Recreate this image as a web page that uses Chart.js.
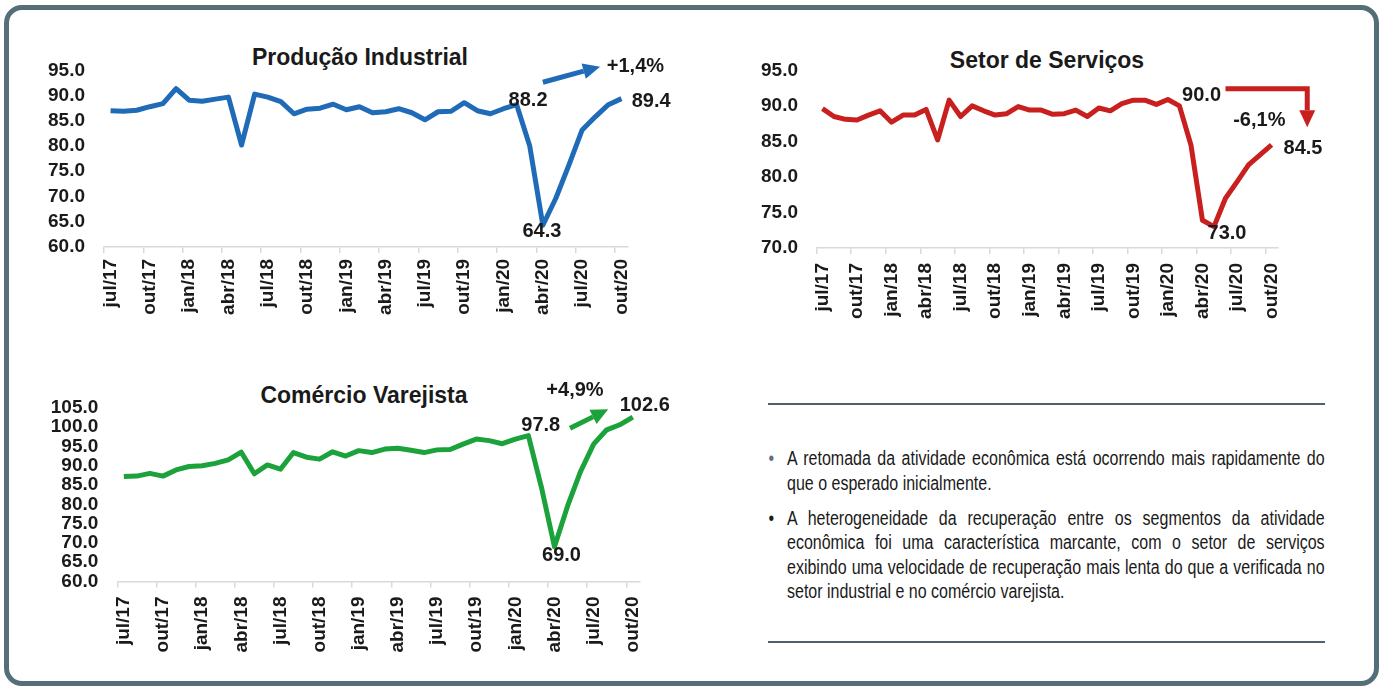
<!DOCTYPE html>
<html lang="pt-BR">
<head>
<meta charset="utf-8">
<script src="https://cdn.jsdelivr.net/npm/chart.js@4.4.1/dist/chart.umd.min.js"></script>
<style>
  html, body { margin: 0; padding: 0; background: #fff; }
  body { width: 1383px; height: 688px; position: relative; overflow: hidden;
         font-family: "Liberation Sans", Arial, sans-serif; color: #1a1a1a; }
  .frame { position: absolute; left: 4px; top: 5px; width: 1365px; height: 671px;
           border: 5px solid #546e7a; border-radius: 18px; }
  .box { position: absolute; }
  .titulo { position: absolute; font-weight: bold; font-size: 23px; white-space: nowrap;
            transform: translate(-50%, -50%); }
  .regua { position: absolute; left: 768px; width: 557px; height: 2px; background: #4f5f6e; }
  /* fonte estreita: Liberation Sans comprimida a 80% (como Arial Narrow) */
  .texto { position: absolute; left: 787px; top: 446px; width: 672px; margin: 0; padding: 0;
           transform: scaleX(0.8); transform-origin: 0 0;
           list-style: none; font-family: "Liberation Sans", Arial, sans-serif;
           font-size: 20px; line-height: 24.5px; text-align: justify; color: #1a1a1a; }
  .texto li { position: relative; margin-bottom: 10.5px; }
  .texto li::before { content: "\2022"; position: absolute; left: -23px; top: 0; }
  .texto li.b1::before { color: #5b7083; }
</style>
</head>
<body>
<div class="frame"></div>

<div class="titulo" style="left:360px; top:57px;">Produção Industrial</div>
<div class="titulo" style="left:1047px; top:60px;">Setor de Serviços</div>
<div class="titulo" style="left:364px; top:395px;">Comércio Varejista</div>

<div class="box" style="left:20px; top:40px; width:680px; height:300px;"><canvas id="cProd" width="680" height="300"></canvas></div>
<div class="box" style="left:700px; top:40px; width:640px; height:300px;"><canvas id="cServ" width="640" height="300"></canvas></div>
<div class="box" style="left:20px; top:375px; width:680px; height:300px;"><canvas id="cCom" width="680" height="300"></canvas></div>

<div class="regua" style="top:403px;"></div>
<ul class="texto">
  <li class="b1">A retomada da atividade econômica está ocorrendo mais rapidamente do que o esperado inicialmente.</li>
  <li>A heterogeneidade da recuperação entre os segmentos da atividade econômica foi uma característica marcante, com o setor de serviços exibindo uma velocidade de recuperação mais lenta do que a verificada no setor industrial e no comércio varejista.</li>
</ul>
<div class="regua" style="top:641px;"></div>

<script>
// meses (jul/17 a out/20)
const meses = ['jul/17','ago/17','set/17','out/17','nov/17','dez/17',
  'jan/18','fev/18','mar/18','abr/18','mai/18','jun/18','jul/18','ago/18','set/18','out/18','nov/18','dez/18',
  'jan/19','fev/19','mar/19','abr/19','mai/19','jun/19','jul/19','ago/19','set/19','out/19','nov/19','dez/19',
  'jan/20','fev/20','mar/20','abr/20','mai/20','jun/20','jul/20','ago/20','set/20','out/20'];

const producao = [87.0, 86.9, 87.1, 87.8, 88.4, 91.4, 89.1, 88.9, 89.3, 89.7,
                  80.2, 90.3, 89.7, 88.8, 86.4, 87.3, 87.5, 88.3, 87.2, 87.8,
                  86.6, 86.8, 87.4, 86.6, 85.2, 86.8, 86.9, 88.6, 87.0, 86.4,
                  87.4, 88.2, 80.0, 64.3, 69.7, 76.3, 83.2, 85.8, 88.2, 89.4];

const servicos = [89.6, 88.5, 88.1, 88.0, 88.7, 89.3, 87.7, 88.7, 88.7, 89.5,
                  85.2, 90.8, 88.5, 90.0, 89.3, 88.7, 88.9, 89.9, 89.4, 89.4,
                  88.8, 88.9, 89.4, 88.5, 89.7, 89.3, 90.3, 90.8, 90.8, 90.2,
                  90.9, 90.0, 84.5, 73.9, 73.0, 77.0, 79.3, 81.7, 83.1, 84.5];

const comercio = [87.2, 87.3, 88.0, 87.3, 88.9, 89.8, 90.0, 90.6, 91.5, 93.5,
                  87.9, 90.2, 89.1, 93.4, 92.2, 91.7, 93.6, 92.5, 93.9, 93.4,
                  94.3, 94.5, 94.0, 93.4, 94.1, 94.2, 95.6, 96.9, 96.5, 95.7,
                  96.9, 97.8, 84.4, 69.0, 79.5, 88.5, 95.6, 99.3, 100.6, 102.6];

const FONTE = '"Liberation Sans", Arial, sans-serif';
const fev20 = 31, ultimo = 39;

function variacao(arr) {
  var v = (arr[ultimo] / arr[fev20] - 1) * 100;
  return (v >= 0 ? '+' : '') + v.toFixed(1).replace('.', ',') + '%';
}

// rótulos e setas desenhados pelas escalas do gráfico
const notas = {
  id: 'notas',
  afterDatasetsDraw(chart, args, opts) {
    const ctx = chart.ctx;
    const x = chart.scales.x, y = chart.scales.y;
    const dados = chart.data.datasets[0].data;
    ctx.save();
    ctx.fillStyle = '#1a1a1a';
    ctx.font = 'bold 20px ' + FONTE;
    ctx.textBaseline = 'middle';
    (opts.rotulos || []).forEach(function (r) {
      const px = x.getPixelForValue(r.i), py = y.getPixelForValue(dados[r.i]);
      ctx.textAlign = r.align || 'center';
      ctx.fillText(dados[r.i].toFixed(1), px + r.dx, py + r.dy);
    });
    if (opts.seta) {
      const s = opts.seta;
      const pts = s.pontos.map(function (p) { return [x.getPixelForValue(p[0]), y.getPixelForValue(p[1])]; });
      const n = pts.length;
      const a = pts[n - 2], b = pts[n - 1];
      const ang = Math.atan2(b[1] - a[1], b[0] - a[0]);
      const comp = 17, larg = 8;
      ctx.strokeStyle = s.cor;
      ctx.fillStyle = s.cor;
      ctx.lineWidth = 5;
      ctx.lineJoin = 'miter';
      ctx.beginPath();
      ctx.moveTo(pts[0][0], pts[0][1]);
      for (var k = 1; k < n - 1; k++) ctx.lineTo(pts[k][0], pts[k][1]);
      ctx.lineTo(b[0] - comp * Math.cos(ang), b[1] - comp * Math.sin(ang));
      ctx.stroke();
      ctx.beginPath();
      ctx.moveTo(b[0], b[1]);
      ctx.lineTo(b[0] - comp * Math.cos(ang) + larg * Math.sin(ang), b[1] - comp * Math.sin(ang) - larg * Math.cos(ang));
      ctx.lineTo(b[0] - comp * Math.cos(ang) - larg * Math.sin(ang), b[1] - comp * Math.sin(ang) + larg * Math.cos(ang));
      ctx.closePath();
      ctx.fill();
      ctx.fillStyle = '#1a1a1a';
      ctx.textAlign = s.texto.align;
      ctx.fillText(s.texto.txt, x.getPixelForValue(s.texto.pos[0]), y.getPixelForValue(s.texto.pos[1]));
    }
    ctx.restore();
  }
};

function grafico(id, serie, cor, g) {
  const ctx = document.getElementById(id).getContext('2d');
  return new Chart(ctx, {
    type: 'line',
    data: {
      labels: meses,
      datasets: [{
        data: serie,
        borderColor: cor,
        borderWidth: 5,
        pointRadius: 0,
        tension: 0,
        borderJoinStyle: 'round',
        borderCapStyle: 'butt',
        clip: false
      }]
    },
    options: {
      responsive: false,
      animation: false,
      layout: { padding: { left: 0, top: g.top, right: g.right, bottom: 0 } },
      plugins: { legend: { display: false }, tooltip: { enabled: false }, notas: g.notas },
      scales: {
        x: {
          offset: true,
          grid: {
            offset: true,
            drawOnChartArea: false,
            drawTicks: true,
            tickLength: 6,
            lineWidth: 1.5,
            color: function (c) { return c.index % 3 === 0 ? '#d9d9d9' : 'rgba(0,0,0,0)'; }
          },
          border: { display: true, color: '#d9d9d9', width: 1.5 },
          ticks: {
            autoSkip: false,
            minRotation: 90,
            maxRotation: 90,
            padding: g.xpad,
            color: '#1a1a1a',
            font: { family: FONTE, size: 19, weight: 'bold' },
            callback: function (v, i) { return i % 3 === 0 ? meses[i] : ''; }
          },
          afterFit: function (s) { s.height = g.xh; }
        },
        y: {
          min: g.min,
          max: g.max,
          grid: { display: false, drawTicks: false },
          border: { display: false },
          ticks: {
            autoSkip: false,
            stepSize: 5,
            padding: g.ypad,
            color: '#1a1a1a',
            font: { family: FONTE, size: 19, weight: 'bold' },
            callback: function (v) { return v.toFixed(1); }
          },
          afterFit: function (s) { s.width = g.yw; }
        }
      }
    },
    plugins: [notas]
  });
}

grafico('cProd', producao, '#1f6bb8', {
  top: 28.75, right: 72, xh: 93.1, yw: 84, ypad: 19, xpad: 6, min: 60, max: 95,
  notas: {
    rotulos: [
      { i: fev20, dx: 11.4, dy: -4.1 },
      { i: 33, dx: -1, dy: 6.7 },
      { i: ultimo, dx: 10.3, dy: 2.7, align: 'left' }
    ],
    seta: { cor: '#1f6bb8', pontos: [[33.0, 92.65], [37.37, 95.74]],
            texto: { txt: variacao(producao), pos: [37.88, 95.74], align: 'left' } }
  }
});

grafico('cServ', servicos, '#c8201f', {
  top: 30.3, right: 62.7, xh: 92, yw: 116.7, ypad: 18.7, xpad: 9, min: 70, max: 95,
  notas: {
    rotulos: [
      { i: fev20, dx: 2.7, dy: -10.7, align: 'left' },
      { i: 34, dx: 13, dy: 6.6 },
      { i: ultimo, dx: 12, dy: 3.4, align: 'left' }
    ],
    seta: { cor: '#c8201f', pontos: [[35.0, 92.4], [42.1, 92.4], [42.1, 86.98]],
            texto: { txt: variacao(servicos), pos: [37.94, 87.87], align: 'center' } }
  }
});

grafico('cCom', comercio, '#1ba23a', {
  top: 32.8, right: 60.7, xh: 93.5, yw: 97.3, ypad: 19, xpad: 9, min: 60, max: 105,
  notas: {
    rotulos: [
      { i: fev20, dx: 12.4, dy: -10.6 },
      { i: 33, dx: 7, dy: 9 },
      { i: ultimo, dx: 12, dy: -12 }
    ],
    seta: { cor: '#1ba23a', pontos: [[34.19, 99.69], [37.12, 104.61]],
            texto: { txt: variacao(comercio), pos: [34.57, 109.6], align: 'center' } }
  }
});
</script>
</body>
</html>
